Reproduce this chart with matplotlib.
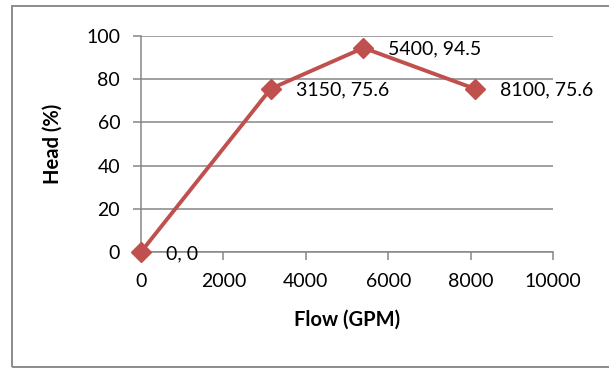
import matplotlib.pyplot as plt
from matplotlib.patches import Rectangle

flow = [0, 3150, 5400, 8100]
head = [0, 75.6, 94.5, 75.6]
labels = ["0, 0", "3150, 75.6", "5400, 94.5", "8100, 75.6"]
xticks = [0, 2000, 4000, 6000, 8000, 10000]
yticks = [0, 20, 40, 60, 80, 100]

RED = "#C0504D"
GRID = "#868686"
FS = 14

plt.rcParams["font.family"] = ["Lato", "DejaVu Sans"]

fig = plt.figure(figsize=(6.09, 3.68), dpi=100)
W, H = 609, 368
ax = fig.add_axes([141 / W, 1 - 252 / H, (553 - 141) / W, (252 - 36) / H])

# outer chart border (clipped at right/bottom like the source)
fig.patches.append(Rectangle((12 / W, 1 / H), 1.0, 1 - 7 / H, transform=fig.transFigure,
                             fill=False, ec="#8c8c8c", lw=1.4, zorder=0))

ax.plot(flow, head, color=RED, lw=2.8, marker="D", markersize=10.5,
        markerfacecolor=RED, markeredgecolor=RED, zorder=3, clip_on=False)
for x, y, s in zip(flow, head, labels):
    ax.annotate(s, (x, y), xytext=(18, -1), textcoords="offset points",
                ha="left", va="center", fontsize=FS, color="black", zorder=4)

ax.set_xlim(0, 10000)
ax.set_ylim(0, 100)
ax.set_xticks(xticks)
ax.set_yticks(yticks)
ax.grid(axis="y", color=GRID, lw=1.1)
ax.set_axisbelow(True)
for s in ["top", "right"]:
    ax.spines[s].set_visible(False)
for s in ["left", "bottom"]:
    ax.spines[s].set_color(GRID)
    ax.spines[s].set_linewidth(1.1)
ax.tick_params(axis="both", length=6, width=1.1, color=GRID, labelsize=FS, pad=9)

ax.set_xlabel("Flow (GPM)", fontsize=FS + 0.5, fontweight="bold")
ax.set_ylabel("Head (%)", fontsize=FS + 0.5, fontweight="bold")
ax.xaxis.set_label_coords(0.5, -0.265)
ax.yaxis.set_label_coords(-0.19, 0.5)

fig.savefig("out.png", dpi=100)
